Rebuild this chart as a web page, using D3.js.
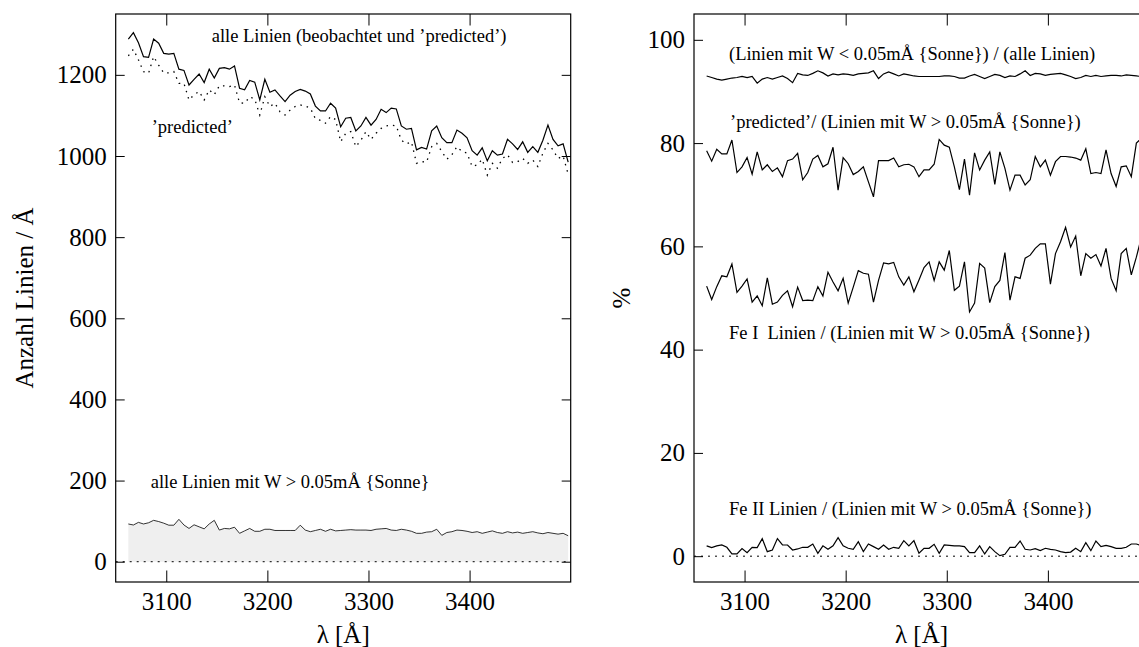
<!DOCTYPE html>
<html><head><meta charset="utf-8">
<script src="https://cdn.jsdelivr.net/npm/d3@7"></script>
<style>
html,body{margin:0;padding:0;background:#fff;}
svg{display:block;}
svg text{font-family:"Liberation Serif","Times New Roman",serif !important;fill:#000;}
</style></head>
<body>
<svg id="chart" width="1139" height="647"></svg>
<script>
// wavelength bins (Å)
const lambda = [3062.5,3067.5,3072.5,3077.5,3082.5,3087.5,3092.5,3097.5,3102.5,3107.5,
3112.5,3117.5,3122.5,3127.5,3132.5,3137.5,3142.5,3147.5,3152.5,3157.5,
3162.5,3167.5,3172.5,3177.5,3182.5,3187.5,3192.5,3197.5,3202.5,3207.5,
3212.5,3217.5,3222.5,3227.5,3232.5,3237.5,3242.5,3247.5,3252.5,3257.5,
3262.5,3267.5,3272.5,3277.5,3282.5,3287.5,3292.5,3297.5,3302.5,3307.5,
3312.5,3317.5,3322.5,3327.5,3332.5,3337.5,3342.5,3347.5,3352.5,3357.5,
3362.5,3367.5,3372.5,3377.5,3382.5,3387.5,3392.5,3397.5,3402.5,3407.5,
3412.5,3417.5,3422.5,3427.5,3432.5,3437.5,3442.5,3447.5,3452.5,3457.5,
3462.5,3467.5,3472.5,3477.5,3482.5,3487.5,3492.5,3497.5];

// left panel: lines per Å
const allLines = [1288,1304,1279,1245,1243,1288,1278,1253,1251,1253,
1214,1211,1175,1189,1202,1181,1214,1192,1216,1218,
1214,1222,1167,1163,1186,1182,1138,1189,1157,1163,
1148,1134,1150,1159,1164,1160,1153,1123,1111,1111,
1130,1118,1072,1093,1095,1062,1074,1095,1076,1090,
1115,1107,1118,1116,1074,1066,1068,1015,1021,1017,
1062,1074,1045,1033,1033,1064,1056,1045,1013,1002,
1020,988,1013,1002,1005,1041,1030,1016,1035,1009,
1023,1009,1039,1076,1041,1025,1030,985];
const predicted = [1247,1263,1237,1208,1204,1245,1224,1205,1205,1208,
1179,1179,1138,1151,1159,1138,1163,1151,1173,1173,
1171,1175,1131,1130,1146,1140,1101,1146,1122,1130,
1109,1101,1113,1122,1126,1123,1118,1092,1088,1081,
1097,1090,1035,1056,1060,1023,1039,1060,1041,1056,
1068,1074,1076,1074,1039,1030,1035,982,986,985,
1023,1031,1011,992,1003,1023,1011,1007,974,978,
992,953,982,970,994,1003,984,986,994,982,
990,974,1007,1031,1015,994,1000,955];
const observedW = [93,90.5,97,93,96,102,99,95,90,90,
104.5,90.5,82,91,86,81,93,102,78,82,
81,85,70,76,82,75,75,80,80,77,
77,77,77,77,90,78,74,77,80,75,
80,76,77,78,79,78,78,78,77,80,
81,82,78,77,80,78,75,70,70,73,
74,80,65,72,74,78,77,75,72,74,
70,73,76,72,70,74,71,73,70,72,
74,71,69,72,70,68,70,64];

// right panel: percentages
const weakShare = [93.0,92.7,92.4,92.2,92.4,92.6,92.7,92.9,92.7,92.9,
91.6,92.4,92.7,92.4,92.7,93.0,92.5,91.7,93.5,93.2,
93.1,93.5,94.0,93.6,93.0,93.4,93.2,93.4,93.3,93.1,
93.4,93.5,93.6,94.0,92.5,93.4,93.8,93.4,93.0,93.4,
93.2,93.0,92.9,92.9,92.9,92.9,92.9,93.0,93.0,92.9,
92.6,92.6,93.0,93.3,92.9,92.5,92.9,93.3,93.1,92.7,
93.0,92.9,93.4,94.0,93.1,93.5,93.4,93.1,93.3,93.4,
93.5,93.2,92.9,92.5,92.7,93.1,92.9,93.1,92.9,93.0,
93.1,93.1,93.0,93.2,93.1,93.0,92.9,92.9];
const predictedShare = [78.5,76.5,78.8,77.9,77.9,80.6,74.3,75.4,77.2,74.0,
78.3,74.8,75.8,74.5,75.2,73.5,76.6,76.9,78.0,72.9,
74.3,76.9,77.6,75.4,76.0,79.2,70.9,77.2,76.0,73.9,
74.5,75.4,72.5,69.6,76.6,76.6,76.6,77.1,75.4,75.8,
75.9,75.4,73.5,74.8,74.8,75.9,80.7,79.6,79.2,75.4,
71.0,76.9,69.9,78.1,74.8,76.7,78.3,72.0,78.3,75.1,
70.9,73.8,73.8,71.9,72.9,77.4,75.4,76.7,73.8,76.4,
77.4,77.4,77.3,77.1,76.7,78.9,74.1,74.3,74.1,78.7,
74.1,71.6,75.4,75.6,73.5,80.0,80.9,80.5];
const feIShare = [52.3,49.7,52.2,54.3,54.1,56.6,51.1,52.3,53.7,49.2,
50.4,48.5,53.9,48.8,49.2,50.5,51.4,48.3,52.1,49.5,
49.6,49.5,52.2,50.4,55.0,53.1,51.4,53.8,49.0,52.1,
55.3,54.8,54.6,49.2,53.4,56.8,56.6,56.9,54.1,52.5,
54.1,51.2,53.5,55.9,57.0,53.4,57.0,55.4,59.2,51.5,
52.3,57.0,47.3,49.0,56.7,55.8,49.1,52.2,53.4,58.8,
49.6,54.1,53.8,57.7,58.3,59.6,60.5,60.5,52.7,58.6,
60.9,63.7,59.9,62.0,54.3,58.6,57.7,58.4,56.2,59.6,
53.8,51.4,58.6,59.6,54.5,57.9,61.8,62.0];
const feIIShare = [2.0,1.65,2.0,2.17,1.72,0.43,0.43,1.46,0.69,1.72,
1.65,3.4,0.88,1.2,3.4,2.17,2.17,1.2,1.4,1.72,
1.72,2.36,0.56,2.0,1.33,2.0,3.6,2.0,1.53,1.33,
2.8,0.88,2.36,1.85,1.33,2.17,1.33,1.72,1.53,3.0,
2.0,3.0,0.56,1.53,1.53,2.3,0.56,2.17,2.1,2.0,
2.0,1.85,0.69,0.69,2.0,0.43,1.85,0.88,0.1,0.36,
1.72,1.72,2.94,1.33,1.2,1.46,1.07,1.53,1.33,1.2,
0.88,0.69,0.8,1.53,0.88,2.6,1.07,2.94,1.85,2.1,
1.85,1.53,1.53,1.72,2.36,2.36,2.0,2.0];

const xMajor = [3100,3200,3300,3400];
const leftYTicks = [0,200,400,600,800,1000,1200];
const rightYTicks = [0,20,40,60,80,100];

const SERIF = '"Liberation Serif","Times New Roman",serif';
const svg = d3.select("#chart");
const FS = 25, AFS = 18.5;

function panel(opt){
  const g = svg.append("g");
  const x = d3.scaleLinear().domain([3050,3500]).range([opt.left, opt.left+455]);
  const y = d3.scaleLinear().domain(opt.ydom).range([582,14]);
  const clipId = "clip"+opt.id;
  svg.append("clipPath").attr("id",clipId).append("rect")
     .attr("x",opt.left).attr("y",14).attr("width",455).attr("height",568);
  const plot = g.append("g").attr("clip-path","url(#"+clipId+")");
  opt.draw(plot, x, y);
  const minorX = d3.range(3050,3501,10);
  const bot = g.append("g").attr("transform","translate(0,582)");
  bot.call(d3.axisBottom(x).tickValues(minorX).tickSize(-5.5).tickFormat(""));
  bot.call(d3.axisBottom(x).tickValues(xMajor).tickSize(-11.5).tickPadding(10).tickFormat(d3.format("d")));
  const top = g.append("g").attr("transform","translate(0,14)");
  top.call(d3.axisTop(x).tickValues(minorX).tickSize(-5.5).tickFormat(""));
  top.call(d3.axisTop(x).tickValues(xMajor).tickSize(-11.5).tickFormat(""));
  const lft = g.append("g").attr("transform","translate("+opt.left+",0)");
  lft.call(d3.axisLeft(y).tickValues(opt.minorY).tickSize(-4.5).tickFormat(""));
  lft.call(d3.axisLeft(y).tickValues(opt.majorY).tickSize(-9).tickPadding(9).tickFormat(d3.format("d")));
  const rgt = g.append("g").attr("transform","translate("+(opt.left+455)+",0)");
  rgt.call(d3.axisRight(y).tickValues(opt.minorY).tickSize(-4.5).tickFormat(""));
  rgt.call(d3.axisRight(y).tickValues(opt.majorY).tickSize(-9).tickFormat(""));
  [bot,top,lft,rgt].forEach(a=>a.attr("font-family",SERIF).attr("font-size",FS));
  g.selectAll(".domain").remove();
  g.selectAll(".tick line").attr("stroke","#000").attr("stroke-width",1);
  g.selectAll(".tick text").attr("font-size",FS).attr("fill","#000").attr("font-family",SERIF);
  g.append("rect").attr("x",opt.left).attr("y",14).attr("width",455).attr("height",568)
    .attr("fill","none").attr("stroke","#000").attr("stroke-width",1.2);
  g.append("text").attr("x",opt.left+227.5).attr("y",643).attr("text-anchor","middle")
    .attr("font-family",SERIF).attr("font-size",FS).text("λ [Å]");
  g.append("text").attr("transform","translate("+opt.ytx+",298) rotate(-90)")
    .attr("text-anchor","middle").attr("font-family",SERIF).attr("font-size",FS).text(opt.ytitle);
  plot.append("line").attr("x1",x(3050)).attr("x2",x(3500)).attr("y1",y(0)).attr("y2",y(0))
    .attr("stroke","#000").attr("stroke-width",1).attr("stroke-dasharray","2,5");
  return {x,y};
}

function line(x,y,vals){
  return d3.line().x((d,i)=>x(lambda[i])).y(d=>y(d))(vals);
}

panel({id:"L", left:115.7, ydom:[-50,1350], ytx:33, ytitle:"Anzahl Linien / Å",
  majorY:leftYTicks, minorY:d3.range(-50,1351,50),
  draw:(p,x,y)=>{
    const area = d3.area().x((d,i)=>x(lambda[i])).y0(y(0)).y1(d=>y(d));
    p.append("path").attr("d",area(observedW)).attr("fill","#efefef").attr("stroke","none");
    p.append("path").attr("d",line(x,y,observedW)).attr("fill","none").attr("stroke","#000").attr("stroke-width",0.8);
    p.append("path").attr("d",line(x,y,allLines)).attr("fill","none").attr("stroke","#000").attr("stroke-width",1.2);
    p.append("path").attr("d",line(x,y,predicted)).attr("fill","none").attr("stroke","#000").attr("stroke-width",1.3).attr("stroke-dasharray","1.5,5");
  }});
const LT = svg.append("g").attr("font-size",AFS).attr("font-family",SERIF);
LT.append("text").attr("x",211.7).attr("y",42).text("alle Linien (beobachtet und ’predicted’)");
LT.append("text").attr("x",151.7).attr("y",133).text("’predicted’");
LT.append("text").attr("x",150.7).attr("y",488).text("alle Linien mit W > 0.05mÅ {Sonne}");

panel({id:"R", left:694, ydom:[-5,105], ytx:630, ytitle:"%",
  majorY:rightYTicks, minorY:d3.range(-5,106,5),
  draw:(p,x,y)=>{
    [weakShare,predictedShare,feIShare,feIIShare].forEach(s=>{
      p.append("path").attr("d",line(x,y,s)).attr("fill","none").attr("stroke","#000").attr("stroke-width",1.2);
    });
  }});
const RT = svg.append("g").attr("font-size",AFS).attr("font-family",SERIF);
RT.append("text").attr("x",729).attr("y",60).text("(Linien mit W < 0.05mÅ {Sonne}) / (alle Linien)");
RT.append("text").attr("x",730).attr("y",128).text("’predicted’/ (Linien mit W > 0.05mÅ {Sonne})");
RT.append("text").attr("x",729).attr("y",339).style("white-space","pre").text("Fe I  Linien / (Linien mit W > 0.05mÅ {Sonne})");
RT.append("text").attr("x",729).attr("y",515).text("Fe II Linien / (Linien mit W > 0.05mÅ {Sonne})");
</script>
</body></html>
